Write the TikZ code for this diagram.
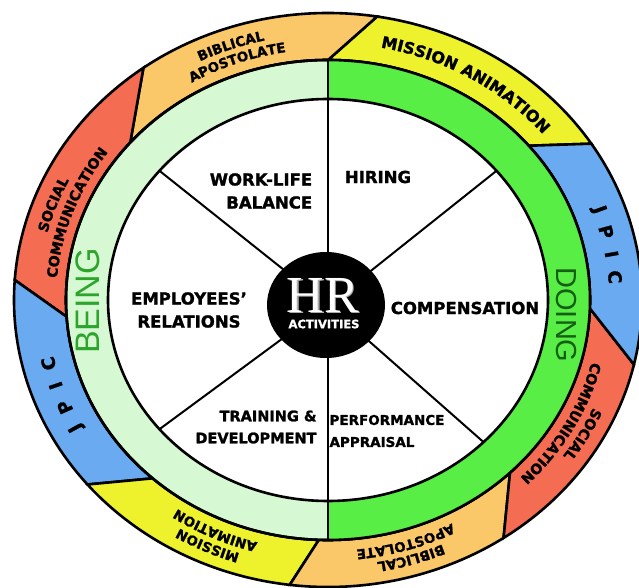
\documentclass[tikz,border=0pt]{standalone}
\usepackage{fontspec}
\setmainfont{DejaVu Sans}[BoldFeatures={FakeBold=1.5}]
\newfontfamily\plainsans{Liberation Sans}
\newfontfamily\hrserif{Liberation Serif}
\usetikzlibrary{shapes.geometric,decorations.text}

\definecolor{segorange}{RGB}{250,200,105}
\definecolor{segyellow}{RGB}{238,242,45}
\definecolor{segblue}{RGB}{105,170,240}
\definecolor{segred}{RGB}{244,108,82}
\definecolor{beingfill}{RGB}{214,248,210}
\definecolor{doingfill}{RGB}{88,238,70}
\definecolor{beingtext}{RGB}{45,165,45}
\definecolor{doingtext}{RGB}{20,95,20}

\newcommand{\bandfont}{\bfseries\fontsize{13.5}{13.5}\selectfont}
\newcommand{\wideband}{\bfseries\fontsize{14}{14}\selectfont}
\newcommand{\bigbandfont}{\bfseries\fontsize{16}{16}\selectfont}

\begin{document}
\begin{tikzpicture}[x=1pt, y=1pt,
  ring/.style={line width=2.6pt, draw=black},
  spoke/.style={line width=2pt},
  activity/.style={font=\bfseries\fontsize{16.5}{23}\selectfont, align=center, inner sep=0pt},
  jpic/.style={font=\bfseries\fontsize{18}{18}\selectfont, inner sep=0pt},
  bandtext/.style={decorate, decoration={text along path, text align=center, text={#1}}}]
\useasboundingbox (-328,-288) rectangle (311,300);
\clip (-328,-288) rectangle (311,300);
% outer band: eight coloured pieces
\foreach \a/\b/\c/\d/\col in {40/90/33/81/segyellow, 90/139/81/126/segorange, 139/184/126/176/segred, 184/228/176/220/segblue, 228/268/220/263/segyellow, 268/314/263/304/segorange, 314/358/304/347/segred, 358/400/347/393/segblue}
  \filldraw[ring, fill=\col] (\a:262 and 240) arc[start angle=\a, end angle=\b, x radius=262, y radius=240]
    -- (\d:314 and 287) arc[start angle=\d, end angle=\c, x radius=314, y radius=287] -- cycle;
% inner band, being and doing halves
\filldraw[ring, fill=beingfill] (0,0) ellipse[x radius=262, y radius=240];
\fill[doingfill] (90:262 and 240) arc[start angle=90, end angle=-90, x radius=262, y radius=240]
  -- (-90:220 and 201) arc[start angle=-90, end angle=90, x radius=220, y radius=201] -- cycle;
\draw[ring] (0,0) ellipse[x radius=262, y radius=240];
\filldraw[ring, fill=white] (0,0) ellipse[x radius=220, y radius=201];
% spokes
\coordinate (hub) at (0,-5);
\coordinate (top) at (0,240);
\coordinate (bottom) at (0,-240);
\draw[spoke] (top) -- (bottom);
\foreach \t in {40,140,220,315} {
  \coordinate (rim\t) at (\t:220 and 201);
  \draw[spoke] (hub) -- (rim\t);
}
% hub
\node[ellipse, fill=black, minimum width=118pt, minimum height=106pt] (hr) at (-2,-5) {};
\node[font=\hrserif\fontsize{52}{52}\selectfont, text=gray!65, inner sep=0pt] (hrshade) at (-3.5,3.5) {HR};
\node[font=\hrserif\fontsize{52}{52}\selectfont, text=white, inner sep=0pt] (hrtext) at (-5,5) {HR};
\node[font=\bfseries\fontsize{11.5}{11.5}\selectfont, text=white, inner sep=0pt] (acts) at (-4,-24) {ACTIVITIES};
% activities
\node[activity, align=right] (worklife) at (-67,109) {WORK-LIFE\\BALANCE};
\node[activity] (hiring) at (50,123) {HIRING};
\node[activity] (employees) at (-139,-10) {EMPLOYEES’\\RELATIONS};
\node[activity] (compensation) at (137,-8) {COMPENSATION};
\node[activity, align=right, font=\bfseries\fontsize{14.5}{22}\selectfont] (training) at (-72,-127) {TRAINING \&\\DEVELOPMENT};
\node[activity, align=left, font=\bfseries\fontsize{13.5}{22}\selectfont] (appraisal) at (59,-131) {PERFORMANCE\\APPRAISAL};
% being / doing
\node[font=\plainsans\fontsize{34}{34}\selectfont, text=beingtext, rotate=90] (being) at (-240,-1) {BEING};
\node[font=\plainsans\fontsize{29}{29}\selectfont, text=doingtext, rotate=-90] (doing) at (238,-15) {DOING};
% band labels
\path[bandtext={|\bandfont|BIBLICAL}] (150:290 and 266) arc[start angle=150, end angle=70, x radius=290, y radius=266];
\path[bandtext={|\bandfont|APOSTOLATE}] (150:272 and 251) arc[start angle=150, end angle=70, x radius=272, y radius=251];
\path[bandtext={|\bigbandfont|MISSION ANIMATION}] (99:281 and 257) arc[start angle=99, end angle=19, x radius=281, y radius=257];
\path[bandtext={|\wideband|SOCIAL}] (200:290 and 266) arc[start angle=200, end angle=120, x radius=290, y radius=266];
\path[bandtext={|\wideband|COMMUNICATION}] (200:272 and 251) arc[start angle=200, end angle=120, x radius=272, y radius=251];
\path[bandtext={|\wideband|SOCIAL}] (371:290 and 266) arc[start angle=371, end angle=291, x radius=290, y radius=266];
\path[bandtext={|\wideband|COMMUNICATION}] (371:272 and 251) arc[start angle=371, end angle=291, x radius=272, y radius=251];
\path[bandtext={|\bandfont|BIBLICAL}] (327:290 and 266) arc[start angle=327, end angle=247, x radius=290, y radius=266];
\path[bandtext={|\bandfont|APOSTOLATE}] (327:272 and 251) arc[start angle=327, end angle=247, x radius=272, y radius=251];
\path[bandtext={|\bandfont|MISSION}] (285:290 and 266) arc[start angle=285, end angle=205, x radius=290, y radius=266];
\path[bandtext={|\bandfont|ANIMATION}] (285:272 and 251) arc[start angle=285, end angle=205, x radius=272, y radius=251];
\foreach \ch/\t in {J/209, P/204, I/199, C/194}
  \node[jpic, rotate=\t-90] (jpicL\ch) at (\t:288 and 263) {\ch};
\foreach \ch/\t in {J/20, P/15, I/10, C/5}
  \node[jpic, rotate=\t-90] (jpicR\ch) at (\t:288 and 263) {\ch};
\end{tikzpicture}
\end{document}
